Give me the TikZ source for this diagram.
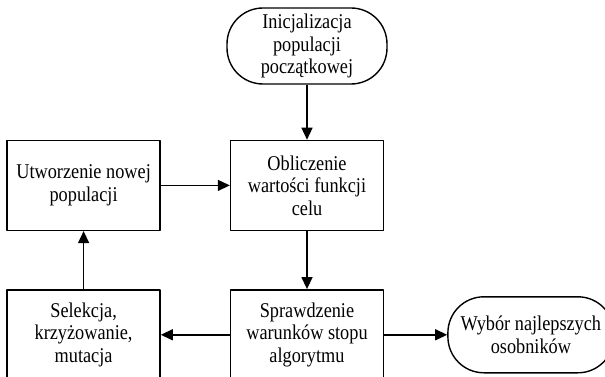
\documentclass[tikz,border=0pt]{standalone}
\usepackage{fontspec}
\setmainfont{Liberation Serif}[FakeStretch=0.87]
\usepackage{tikz}
\usetikzlibrary{arrows.meta,positioning}
\tikzset{
    every picture/.style={line join=round},
    stepbox/.style={draw=black,line width=1.4pt,
      minimum width=153pt,minimum height=90pt,inner sep=2pt,
      align=center},
    terminal/.style={draw=black,line width=1.4pt,rounded corners=36pt,
      minimum height=76pt,inner sep=2pt,align=center},
    flowarrow/.style={-{Triangle[length=12pt,width=11pt]},draw=black,
      line width=1.4pt}
}
\begin{document}
\begin{tikzpicture}[font=\fontsize{21pt}{22.5pt}\selectfont,node distance=58pt and 69pt]
    \useasboundingbox (0,0) rectangle (605pt,-377pt);
    \node[terminal,minimum width=160pt] (start) at (307pt,-46pt) {Inicjalizacja\\populacji\\początkowej};
    \node[stepbox,below=55pt of start] (obl) {Obliczenie\\wartości funkcji\\celu};
    \node[stepbox,left=of obl] (utw) {Utworzenie nowej\\populacji};
    \node[stepbox,below=of obl] (spr) {Sprawdzenie\\warunków stopu\\algorytmu};
    \node[stepbox,below=of utw] (sel) {Selekcja,\\krzyżowanie,\\mutacja};
    \node[terminal,minimum width=166pt,right=63pt of spr] (wyb) {Wybór najlepszych\\osobników};
    \draw[flowarrow] (start)--(obl);
    \draw[flowarrow] (obl)--(spr);
    \draw[flowarrow] (spr)--(sel);
    \draw[flowarrow] (sel)--(utw);
    \draw[flowarrow] (utw)--(obl);
    \draw[flowarrow] (spr)--(wyb);
\end{tikzpicture}
\end{document}
